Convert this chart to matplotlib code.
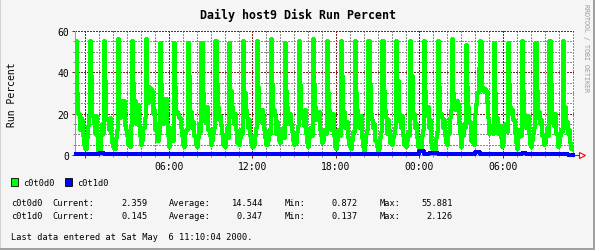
import numpy as np
import matplotlib
matplotlib.use("Agg")
import matplotlib.pyplot as plt
from matplotlib.patches import Rectangle
from matplotlib.ticker import MultipleLocator

# c0t0d0 run percent, 5 minute samples, one row per hour (starting 23:20 the day before)
c0t0d0 = [
    55, 30, 20, 12, 18, 17, 9, 5, 3, 8, 14, 19,
    55, 38, 19, 15, 10, 19, 9, 2, 1.5, 9, 15, 10,
    55, 36, 18, 17, 12, 18, 10, 6, 4, 3, 8, 12,
    56, 20, 18, 26, 25, 26, 14, 12, 9, 5, 4, 14,
    55, 35, 22, 26, 15, 24, 14, 9, 5, 7, 13, 18,
    55.9, 30, 25, 33, 32, 31, 20, 22, 12, 15, 7, 10,
    54, 34, 22, 15, 20, 27, 15, 9, 4, 13, 10, 7,
    54, 33, 20, 21, 20, 18, 13, 9, 5, 4, 10, 12,
    54, 38, 18, 21, 13, 16, 9, 5, 4, 8, 15, 11,
    54, 30, 22, 16, 22, 23, 12, 9, 5, 7, 10, 13,
    55, 34, 23, 17, 19, 14, 10, 5, 4, 9, 13, 8,
    54, 31, 23, 18, 15, 20, 12, 6, 5, 8, 12, 10,
    55, 30, 22, 18, 13, 17, 9, 6, 4, 5, 9, 13,
    55, 33, 22, 16, 22, 19, 12, 8, 5, 7, 12, 10,
    56, 34, 22, 19, 10, 16, 12, 7, 6, 9, 13, 8,
    54, 31, 23, 15, 20, 15, 11, 7, 5, 6, 11, 14,
    55, 34, 22, 18, 14, 22, 10, 6, 4, 8, 13, 9,
    55.9, 34, 23, 17, 18, 21, 12, 9, 6, 7, 12, 10,
    55, 30, 22, 16, 12, 20, 9, 4, 3, 7, 12, 9,
    55, 38, 18, 21, 13, 16, 8, 5, 4, 3, 7, 11,
    55, 30, 22, 17, 13, 19, 8, 4, 2, 6, 10, 12,
    55, 34, 20, 17, 13, 15, 7, 4, 2, 3, 8, 11,
    55, 31, 22, 18, 10, 17, 12, 6, 5, 8, 10, 13,
    55, 36, 20, 16, 13, 19, 9, 5, 4, 7, 11, 9,
    55, 38, 18, 20, 13, 15, 8, 4, 2, 3, 9, 12,
    55, 31, 19, 23, 13, 17, 6, 3, 2, 0.9, 8, 11,
    55, 33, 20, 18, 13, 17, 9, 6, 5, 10, 18, 22,
    55.9, 30, 26, 22, 26, 24, 15, 10, 4, 9, 15, 13,
    53, 33, 23, 16, 7, 12, 6, 5, 20, 24, 30, 42,
    55, 54, 33, 31, 32, 31, 25, 18, 10, 14, 12, 10,
    54, 30, 15, 18, 10, 14, 8, 4, 6, 12, 15, 11,
    54, 34, 23, 20, 22, 17, 10, 6, 3, 8, 12, 9,
    55, 31, 20, 17, 13, 19, 10, 5, 4, 7, 10, 13,
    54, 31, 18, 21, 15, 17, 9, 5, 6, 10, 13, 9,
    55, 34, 20, 15, 14, 20, 10, 4, 6, 9, 12, 11,
    55, 23, 13, 16, 10, 12, 6, 3, 2.4, 2.4, 2.4, 2.4,
]

# c0t1d0 run percent, 20 minute samples, one row per hour
c0t1d0 = [
    0.6, 0.7, 0.6,
    0.5, 0.6, 1.1,
    0.5, 0.4, 0.4,
    0.3, 0.4, 0.3,
    0.4, 0.3, 0.3,
    0.3, 0.4, 0.3,
    0.3, 0.3, 0.4,
    0.3, 0.3, 0.3,
    0.4, 0.3, 0.3,
    0.3, 0.4, 0.3,
    0.3, 0.3, 0.3,
    0.4, 0.3, 0.3,
    0.3, 0.4, 0.3,
    0.3, 0.3, 0.3,
    0.3, 0.4, 0.3,
    0.3, 0.3, 0.4,
    0.3, 0.3, 0.3,
    0.4, 0.3, 0.3,
    0.3, 0.3, 0.3,
    0.3, 0.4, 0.3,
    0.3, 0.3, 0.3,
    0.4, 0.3, 0.3,
    0.3, 0.3, 0.3,
    0.3, 0.4, 0.3,
    0.3, 0.3, 2.126,
    0.4, 0.8, 1.0,
    0.5, 0.4, 0.3,
    0.3, 0.3, 0.4,
    0.3, 0.4, 1.6,
    0.4, 0.3, 0.3,
    0.7, 0.4, 0.3,
    0.3, 0.3, 0.4,
    0.8, 0.4, 0.3,
    0.7, 0.3, 0.3,
    0.3, 0.4, 0.3,
    0.3, 0.2, 0.145,
]

xtick_pos = [0, 6, 12, 18, 24, 30]
xtick_labels = ["", "06:00", "12:00", "18:00", "00:00", "06:00"]
ytick_pos = [0, 20, 40, 60]

stats = [
    ("c0t0d0", "2.359", "14.544", "0.872", "55.881"),
    ("c0t1d0", "0.145", "0.347", "0.137", "2.126"),
]

t_green = -2 / 3 + np.arange(len(c0t0d0)) / 12
t_blue = -2 / 3 + np.arange(len(c0t1d0)) / 3

W, H = 595, 251
mono = "DejaVu Sans Mono"
plt.rcParams["font.family"] = mono

fig = plt.figure(figsize=(W / 100, H / 100), dpi=100, facecolor="#f5f5f5")
ax = fig.add_axes([75 / W, 95 / H, 499 / W, 124 / H])
ax.set_facecolor("white")

ax.plot(t_green, c0t0d0, color="#00ff00", lw=1.45, drawstyle="steps-post",
        antialiased=False, zorder=3)
ax.plot(t_blue, c0t1d0, color="#0000ff", lw=1.45, drawstyle="steps-post",
        antialiased=False, clip_on=False, zorder=4)

ax.set_xlim(-0.75, 35.1)
ax.set_ylim(0, 60)
ax.set_xticks(xtick_pos)
ax.set_xticklabels(xtick_labels)
ax.set_yticks(ytick_pos)
ax.xaxis.set_minor_locator(MultipleLocator(1))
ax.yaxis.set_minor_locator(MultipleLocator(5))
ax.set_axisbelow(True)
ax.grid(which="minor", color="#8c8c8c", lw=0.72, linestyle=(0, (1.4, 1.4)), antialiased=False)
ax.grid(which="major", color="#821e1e", lw=0.72, linestyle=(0, (1.4, 1.4)), antialiased=False)
ax.tick_params(which="major", length=2, width=0.72, color="#821e1e", pad=2.5, labelsize=7)
ax.tick_params(which="minor", length=1.2, width=0.72, color="#8c8c8c")

for s in ["top", "right"]:
    ax.spines[s].set_visible(False)
ax.spines["left"].set_color("#999999")
ax.spines["bottom"].set_color("#999999")
ax.spines["left"].set_linewidth(0.72)
ax.spines["bottom"].set_linewidth(0.72)

# arrow at the end of the time axis
ax.plot([35.1, 35.6], [0, 0], color="red", lw=0.8, clip_on=False)
ax.plot([35.65], [0], marker=">", ms=5, mfc="white", mec="red", mew=0.8, clip_on=False)

def fx(px):
    return px / W

def fy(py):
    return 1 - py / H

fig.text(0.5, fy(15), "Daily host9 Disk Run Percent", ha="center", va="center",
         fontsize=8.4, fontweight="bold")
fig.text(fx(12), fy(95), "Run Percent", rotation=90, ha="center", va="center", fontsize=7)
fig.text(fx(586), fy(48), "RRDTOOL / TOBI OETIKER", rotation=270, ha="center", va="center",
         fontsize=4.8, color="#999999")

# legend
for x0, col, name in [(11, "#00ff00", "c0t0d0"), (65, "#0000ff", "c0t1d0")]:
    fig.add_artist(Rectangle((fx(x0), fy(187)), 7 / W, 8 / H, transform=fig.transFigure,
                             fc=col, ec="black", lw=0.6))
    fig.text(fx(x0 + 12), fy(183), name, ha="left", va="center", fontsize=6.2)

for row, y in zip(stats, [204, 217]):
    name, cur, avg, mn, mx = row
    fig.text(fx(11), fy(y), name, ha="left", va="center", fontsize=6.2)
    fig.text(fx(52), fy(y), "Current:", ha="left", va="center", fontsize=6.2)
    fig.text(fx(148), fy(y), cur, ha="right", va="center", fontsize=6.2)
    fig.text(fx(169), fy(y), "Average:", ha="left", va="center", fontsize=6.2)
    fig.text(fx(263), fy(y), avg, ha="right", va="center", fontsize=6.2)
    fig.text(fx(285), fy(y), "Min:", ha="left", va="center", fontsize=6.2)
    fig.text(fx(358), fy(y), mn, ha="right", va="center", fontsize=6.2)
    fig.text(fx(380), fy(y), "Max:", ha="left", va="center", fontsize=6.2)
    fig.text(fx(453), fy(y), mx, ha="right", va="center", fontsize=6.2)

fig.text(fx(11), fy(237), "Last data entered at Sat May  6 11:10:04 2000.",
         ha="left", va="center", fontsize=6.2)

# frame around the image
fig.add_artist(Rectangle((0, 0), 1, 1 / H, transform=fig.transFigure, fc="#d0d0d0", ec="none"))
fig.add_artist(Rectangle((0, 1 - 1 / H), 1, 1 / H, transform=fig.transFigure, fc="#d0d0d0", ec="none"))
fig.add_artist(Rectangle((0, 0), 1 / W, 1, transform=fig.transFigure, fc="#d0d0d0", ec="none"))
fig.add_artist(Rectangle((0, 0), 1, 2 / H, transform=fig.transFigure, fc="#a0a0a0", ec="none"))
fig.add_artist(Rectangle((1 - 2 / W, 0), 2 / W, 1, transform=fig.transFigure, fc="#a0a0a0", ec="none"))

fig.savefig("out.png", dpi=100, facecolor=fig.get_facecolor())
